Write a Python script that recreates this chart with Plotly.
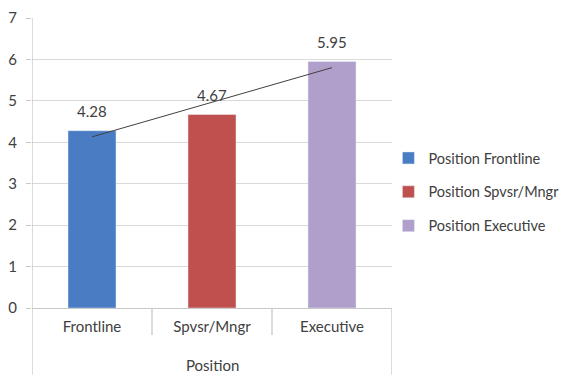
import plotly.graph_objects as go

# Mean score by position
categories = ["Frontline", "Spvsr/Mngr", "Executive"]
values = [4.28, 4.67, 5.95]
series_names = ["Position Frontline", "Position Spvsr/Mngr", "Position Executive"]
colors = ["#4a7cc3", "#c0504d", "#b09fca"]
group_label = "Position"
y_ticks = [0, 1, 2, 3, 4, 5, 6, 7]

FONT = "Lato"
TEXT = "#404040"
AXIS = "#c8c8c8"

fig = go.Figure()

annotations = []
for cat, val, name, col in zip(categories, values, series_names, colors):
    fig.add_trace(go.Bar(
        x=[cat], y=[val], name=name, marker_color=col, width=0.4,
        legendgroup=name,
    ))
    # Value label floating above each bar
    annotations.append(dict(
        x=cat, y=val, xref="x", yref="y", text=f"{val:.2f}",
        showarrow=False, yanchor="bottom", yshift=9,
        font=dict(family=FONT, size=15, color=TEXT),
    ))

# Linear trendline across the three positions
n = len(values)
xs = list(range(n))
mx = sum(xs) / n
my = sum(values) / n
slope = sum((x - mx) * (y - my) for x, y in zip(xs, values)) / sum((x - mx) ** 2 for x in xs)
intercept = my - slope * mx
fig.add_trace(go.Scatter(
    x=[categories[0], categories[-1]],
    y=[intercept, intercept + slope * (n - 1)],
    mode="lines", line=dict(color="#404040", width=1),
    showlegend=False, hoverinfo="skip",
))

shapes = []
# Left axis line running down past the group label
shapes.append(dict(type="line", xref="x", yref="paper", x0=-0.5, x1=-0.5,
                   y0=-0.23, y1=1, line=dict(color=AXIS, width=1.3)))
# Short separators between categories
for xpos in [0.5, 1.5]:
    shapes.append(dict(type="line", xref="x", yref="paper", x0=xpos, x1=xpos,
                       y0=-0.093, y1=0, line=dict(color=AXIS, width=1.3)))
# Right edge of the group
shapes.append(dict(type="line", xref="x", yref="paper", x0=2.5, x1=2.5,
                   y0=-0.23, y1=0, line=dict(color=AXIS, width=1.3)))

annotations.append(dict(text=group_label, xref="x", yref="paper", x=1, y=-0.235,
                        showarrow=False, yanchor="bottom",
                        font=dict(family=FONT, size=15, color=TEXT)))

fig.update_layout(
    width=566, height=375,
    margin=dict(l=32, r=174, t=18, b=67, autoexpand=False),
    paper_bgcolor="white", plot_bgcolor="white",
    barmode="overlay",
    font=dict(family=FONT, size=15, color=TEXT),
    showlegend=True,
    legend=dict(x=0.99, y=0.40, xanchor="left", yanchor="middle",
                font=dict(family=FONT, size=14.5, color=TEXT),
                itemwidth=30, traceorder="grouped", tracegroupgap=12,
                bgcolor="rgba(0,0,0,0)"),
    shapes=shapes,
    annotations=annotations,
)

fig.update_xaxes(
    type="category", categoryorder="array", categoryarray=categories,
    range=[-0.5, 2.5], showgrid=False, showline=True, linecolor=AXIS, linewidth=1.3,
    ticks="", tickfont=dict(family=FONT, size=15, color=TEXT), ticklabelstandoff=5,
)
fig.update_yaxes(
    range=[0, 7], tickvals=y_ticks, showgrid=True, gridcolor="#d9d9d9", gridwidth=1.3,
    showline=False, zeroline=False, ticks="outside", ticklen=5, tickcolor=AXIS,
    tickfont=dict(family=FONT, size=15, color=TEXT), ticklabelstandoff=6,
)

fig.write_html("out.html")
